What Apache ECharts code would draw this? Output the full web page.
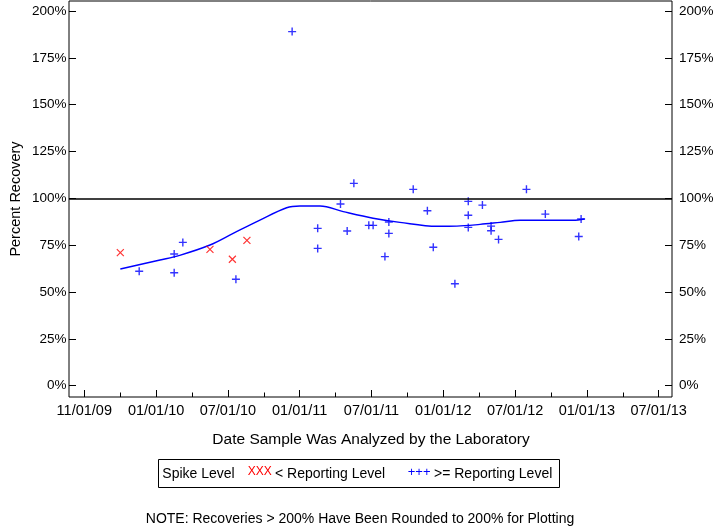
<!DOCTYPE html>
<html>
<head>
<meta charset="utf-8">
<script src="https://cdn.jsdelivr.net/npm/echarts@6/dist/echarts.min.js"></script>
<style>
html,body{margin:0;padding:0;background:#fff;}
#chart{width:720px;height:528px;}
</style>
</head>
<body>
<div id="chart"></div>
<script>
// ---- data ----
const xTickLabels = ['11/01/09','01/01/10','07/01/10','01/01/11','07/01/11','01/01/12','07/01/12','01/01/13','07/01/13'];
const yTickValues = [0, 25, 50, 75, 100, 125, 150, 175, 200];

// Spike level < reporting level (red X)
const belowDates  = ['2009-10-02','2010-05-18','2010-07-14','2010-08-20'];
const belowValues = [71.0, 72.8, 67.5, 77.6];

// Spike level >= reporting level (blue +)
const aboveDates = ['2009-11-19','2010-02-16','2010-02-16','2010-03-10','2010-07-23','2010-12-13',
  '2011-02-16','2011-02-16','2011-04-15','2011-05-02','2011-05-19','2011-06-26','2011-07-07',
  '2011-08-16','2011-08-16','2011-08-06','2011-10-17','2011-11-22','2011-12-07','2012-01-31',
  '2012-03-05','2012-03-05','2012-03-05','2012-04-10','2012-05-02','2012-05-02','2012-05-21',
  '2012-07-31','2012-09-17','2012-12-11','2012-12-17'];
const aboveValues = [61.1, 70.3, 60.3, 76.5, 56.8, 189.0,
  84.0, 73.3, 97.0, 82.6, 108.0, 85.6, 85.6,
  87.4, 81.3, 68.9, 104.8, 93.4, 73.9, 54.4,
  98.4, 91.0, 84.5, 96.4, 85.2, 82.7, 78.1,
  104.8, 91.6, 79.6, 89.0];

// Smoothed trend
const trendDates = ['2009-10-02','2010-01-11','2010-03-02','2010-05-18','2010-07-16','2010-09-22',
  '2010-11-29','2011-01-02','2011-02-22','2011-04-22','2011-07-07','2011-09-13','2011-12-16',
  '2012-02-05','2012-04-04','2012-05-25','2012-07-15','2012-09-21','2012-11-27','2012-12-26'];
const trendValues = [62.3, 67.1, 69.6, 75.1, 81.3, 88.4,
  95.0, 95.9, 95.9, 92.9, 89.4, 87.2, 85.1,
  85.2, 86.1, 87.2, 88.3, 88.3, 88.3, 89.0];

const referenceLevel = 100;

// ---- helpers ----
// axis unit: half-years, tick index 1 = 01/01/10
function pos(d) {
  const t = Date.parse(d + 'T00:00:00Z');
  return 1 + (t - Date.UTC(2010, 0, 1)) / (86400000 * 182.625);
}
function pairs(ds, vs) { return ds.map((d, i) => [pos(d), vs[i]]); }

const FONT = '"Liberation Sans", Arial, sans-serif';
const XMIN = -0.2131, XMAX = 8.1852;
const YMIN = -6.03, YMAX = 205.34;
const majorX = xTickLabels.map((_, i) => i);
const minorX = xTickLabels.slice(1).map((_, i) => i + 0.5);

const chart = echarts.init(document.getElementById('chart'), null, {renderer: 'canvas'});
chart.setOption({
  animation: false,
  backgroundColor: '#fff',
  grid: {left: 69, right: 48, top: 1, height: 396, show: true, borderColor: '#000', borderWidth: 1, backgroundColor: 'transparent'},
  xAxis: [{
    type: 'value', position: 'bottom', min: XMIN, max: XMAX,
    axisLine: {show: false, onZero: false}, splitLine: {show: false},
    axisTick: {show: true, inside: true, length: 7, customValues: majorX, lineStyle: {color: '#000', width: 1}},
    axisLabel: {show: true, customValues: majorX, margin: 6, color: '#000', fontFamily: FONT, fontSize: 14.5,
      formatter: v => xTickLabels[Math.round(v)]}
  }, {
    type: 'value', position: 'bottom', min: XMIN, max: XMAX,
    axisLine: {show: false, onZero: false}, splitLine: {show: false},
    axisTick: {show: true, inside: true, length: 4.5, customValues: minorX, lineStyle: {color: '#000', width: 1}},
    axisLabel: {show: false}
  }],
  yAxis: [{
    type: 'value', position: 'left', min: YMIN, max: YMAX,
    axisLine: {show: false, onZero: false}, splitLine: {show: false},
    axisTick: {show: true, inside: true, length: 7, customValues: yTickValues, lineStyle: {color: '#000'}},
    axisLabel: {customValues: yTickValues, margin: 2.5, color: '#000', fontFamily: FONT, fontSize: 13.5, formatter: v => v + '%'}
  }, {
    type: 'value', position: 'right', min: YMIN, max: YMAX,
    axisLine: {show: false, onZero: false}, splitLine: {show: false},
    axisTick: {show: true, inside: true, length: 7, customValues: yTickValues, lineStyle: {color: '#000'}},
    axisLabel: {customValues: yTickValues, margin: 7, color: '#000', fontFamily: FONT, fontSize: 13.5, formatter: v => v + '%'}
  }],
  series: [{
    name: 'Trend', type: 'line', xAxisIndex: 0, yAxisIndex: 0,
    data: pairs(trendDates, trendValues), showSymbol: false, smooth: 0.35,
    lineStyle: {color: '#0000ff', width: 1.4}, z: 3,
    markLine: {silent: true, symbol: 'none', label: {show: false},
      lineStyle: {color: '#000', width: 1.5, type: 'solid'}, data: [{yAxis: referenceLevel}]}
  }, {
    name: '< Reporting Level', type: 'scatter', xAxisIndex: 0, yAxisIndex: 0,
    data: pairs(belowDates, belowValues),
    symbol: 'path://M0,0L10,10M10,0L0,10', symbolSize: 7,
    itemStyle: {color: 'transparent', borderColor: '#ff0000', borderWidth: 1.2}, z: 4
  }, {
    name: '>= Reporting Level', type: 'scatter', xAxisIndex: 0, yAxisIndex: 0,
    data: pairs(aboveDates, aboveValues),
    symbol: 'path://M5,0L5,10M0,5L10,5', symbolSize: 8,
    itemStyle: {color: 'transparent', borderColor: '#0000ff', borderWidth: 1.4}, z: 4
  }],
  graphic: [
    {type: 'text', x: 16, y: 199, rotation: Math.PI / 2,
      style: {text: 'Percent Recovery', fontFamily: FONT, fontSize: 14.5, fill: '#000', align: 'center', verticalAlign: 'middle'}},
    {type: 'text', x: 371, y: 440,
      style: {text: 'Date Sample Was Analyzed by the Laboratory', fontFamily: FONT, fontSize: 15.5, fill: '#000', align: 'center', verticalAlign: 'middle'}},
    {type: 'rect', shape: {x: 158.5, y: 459.5, width: 401, height: 28},
      style: {fill: 'transparent', stroke: '#000', lineWidth: 1}},
    {type: 'text', x: 162.3, y: 474,
      style: {text: 'Spike Level', fontFamily: FONT, fontSize: 14, fill: '#000', align: 'left', verticalAlign: 'middle'}},
    {type: 'text', x: 247.7, y: 472,
      style: {text: 'XXX', fontFamily: FONT, fontSize: 12, fill: '#ff0000', align: 'left', verticalAlign: 'middle'}},
    {type: 'text', x: 275, y: 474,
      style: {text: '< Reporting Level', fontFamily: FONT, fontSize: 14, fill: '#000', align: 'left', verticalAlign: 'middle'}},
    {type: 'text', x: 407.7, y: 472,
      style: {text: '+++', fontFamily: FONT, fontSize: 13, fill: '#0000ff', align: 'left', verticalAlign: 'middle'}},
    {type: 'text', x: 434, y: 474,
      style: {text: '>= Reporting Level', fontFamily: FONT, fontSize: 14, fill: '#000', align: 'left', verticalAlign: 'middle'}},
    {type: 'text', x: 360, y: 519,
      style: {text: 'NOTE: Recoveries > 200% Have Been Rounded to 200% for Plotting', fontFamily: FONT, fontSize: 14, fill: '#000', align: 'center', verticalAlign: 'middle'}}
  ]
});
</script>
</body>
</html>
